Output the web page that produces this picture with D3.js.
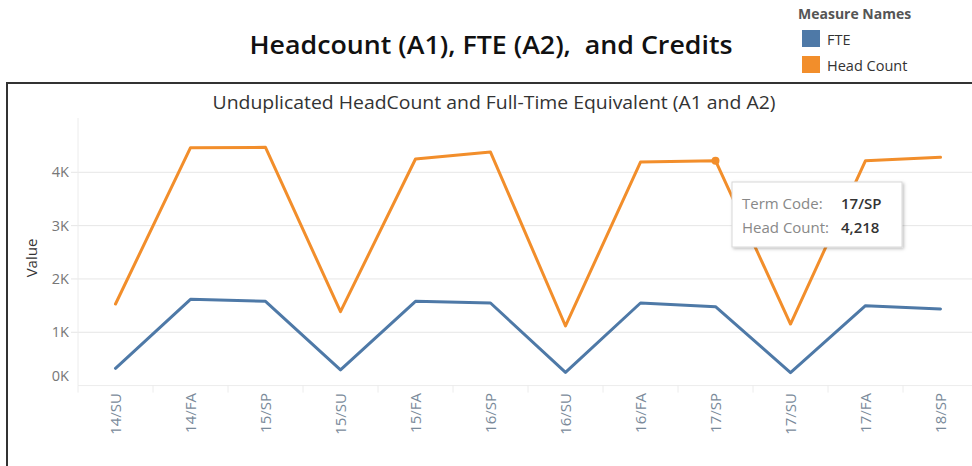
<!DOCTYPE html>
<html>
<head>
<meta charset="utf-8">
<script src="https://cdn.jsdelivr.net/npm/d3@7"></script>
<style>
  body { margin: 0; background: #fff; font-family: "Open Sans", "Noto Sans", sans-serif; }
  svg { display: block; }
</style>
</head>
<body>
<script>
// 数据：学期代码、两个度量
var terms = ["14/SU", "14/FA", "15/SP", "15/SU", "15/FA", "16/SP", "16/SU", "16/FA", "17/SP", "17/SU", "17/FA", "18/SP"];
var headCount = [1530, 4461, 4468, 1386, 4249, 4380, 1118, 4193, 4218, 1155, 4217, 4280];
var fte = [324, 1618, 1580, 293, 1580, 1549, 249, 1549, 1480, 242, 1498, 1436];
var yTicks = [0, 1000, 2000, 3000, 4000];

var w = 972, h = 466;
var colors = { fte: "#4e79a7", head: "#f28e2b" };

var svg = d3.select("body").append("svg").attr("width", w).attr("height", h);

// 标题（保留两个空格）
svg.append("text")
  .attr("x", 491).attr("y", 54)
  .attr("text-anchor", "middle")
  .attr("textLength", 483).attr("lengthAdjust", "spacingAndGlyphs")
  .style("white-space", "pre")
  .style("font-size", "25px").style("font-weight", 600).style("fill", "#111")
  .text("Headcount (A1), FTE (A2),  and Credits");

// 图例
svg.append("text").attr("x", 798).attr("y", 19)
  .style("font-size", "14px").style("font-weight", 700).style("fill", "#555")
  .text("Measure Names");
var legendItems = [["FTE", colors.fte], ["Head Count", colors.head]];
legendItems.forEach(function (d, i) {
  svg.append("rect").attr("x", 802).attr("y", 30 + i * 26).attr("width", 18).attr("height", 17).attr("fill", d[1]);
  svg.append("text").attr("x", 827).attr("y", 45 + i * 26)
    .style("font-size", "14.5px").style("fill", "#333").text(d[0]);
});

// 外框
svg.append("path")
  .attr("d", "M7," + h + "V83H" + w)
  .attr("fill", "none").attr("stroke", "#333").attr("stroke-width", 2);

svg.append("text")
  .attr("x", 494).attr("y", 109)
  .attr("text-anchor", "middle")
  .attr("textLength", 563).attr("lengthAdjust", "spacingAndGlyphs")
  .style("font-size", "17.5px").style("fill", "#333")
  .text("Unduplicated HeadCount and Full-Time Equivalent (A1 and A2)");

// 比例尺
var x0 = 78, bandW = 75;
var xScale = d3.scaleBand().domain(terms).range([x0, x0 + bandW * terms.length]);
var yScale = d3.scaleLinear().domain([0, 4000]).range([385.6, 172.3]);

// 网格线
var grid = svg.append("g");
grid.selectAll("line").data(yTicks.slice(1)).enter().append("line")
  .attr("x1", 71).attr("x2", w)
  .attr("y1", function (d) { return yScale(d); })
  .attr("y2", function (d) { return yScale(d); })
  .attr("stroke", "#e6e6e6");

// 轴线
svg.append("line").attr("x1", x0).attr("x2", x0).attr("y1", 118).attr("y2", yScale(0))
  .attr("stroke", "#ececec");
svg.append("line").attr("x1", x0).attr("x2", w).attr("y1", yScale(0)).attr("y2", yScale(0))
  .attr("stroke", "#ececec");

// x 分隔刻度
svg.append("g").selectAll("line").data(terms).enter().append("line")
  .attr("x1", function (d) { return xScale(d); })
  .attr("x2", function (d) { return xScale(d); })
  .attr("y1", yScale(0)).attr("y2", yScale(0) + 7)
  .attr("stroke", "#ececec");

// Y 轴标签
svg.append("g").selectAll("text").data(yTicks).enter().append("text")
  .attr("x", 69)
  .attr("y", function (d) { return d === 0 ? yScale(d) - 5 : yScale(d) + 5; })
  .attr("text-anchor", "end")
  .style("font-size", "14.5px").style("fill", "#777")
  .text(function (d) { return d / 1000 + "K"; });

svg.append("text")
  .attr("transform", "translate(37,258) rotate(-90)")
  .attr("text-anchor", "middle")
  .style("font-size", "15px").style("fill", "#333")
  .text("Value");

// X 轴标签
svg.append("g").selectAll("text").data(terms).enter().append("text")
  .attr("transform", function (d) {
    return "translate(" + (xScale(d) + bandW / 2 + 5) + ",393) rotate(-90)";
  })
  .attr("text-anchor", "end")
  .style("font-size", "15px").style("fill", "#7a8a9a")
  .text(function (d) { return d; });

// 折线
var line = d3.line()
  .x(function (d, i) { return xScale(terms[i]) + bandW / 2; })
  .y(function (d) { return yScale(d); });

svg.append("path").datum(fte).attr("d", line)
  .attr("fill", "none").attr("stroke", colors.fte).attr("stroke-width", 3)
  .attr("stroke-linejoin", "round").attr("stroke-linecap", "round");
svg.append("path").datum(headCount).attr("d", line)
  .attr("fill", "none").attr("stroke", colors.head).attr("stroke-width", 3)
  .attr("stroke-linejoin", "round").attr("stroke-linecap", "round");

// 悬停点与提示框
var hi = terms.indexOf("17/SP");
var hx = xScale(terms[hi]) + bandW / 2, hy = yScale(headCount[hi]);
svg.append("circle").attr("cx", hx).attr("cy", hy).attr("r", 4).attr("fill", colors.head);

var defs = svg.append("defs");
var f = defs.append("filter").attr("id", "shadow").attr("x", "-10%").attr("y", "-10%").attr("width", "130%").attr("height", "140%");
f.append("feDropShadow").attr("dx", 1.5).attr("dy", 1.5).attr("stdDeviation", 1.5).attr("flood-color", "#000").attr("flood-opacity", 0.25);

var tip = svg.append("g").attr("transform", "translate(732,182)");
tip.append("rect").attr("width", 170).attr("height", 65)
  .attr("fill", "#fff").attr("stroke", "#d8d8d8").attr("filter", "url(#shadow)");
tip.append("text").attr("x", 10).attr("y", 27).style("font-size", "15px").style("fill", "#888").text("Term Code:");
tip.append("text").attr("x", 109).attr("y", 27).style("font-size", "15px").style("fill", "#333").style("font-weight", 600).text(terms[hi]);
tip.append("text").attr("x", 10).attr("y", 51).style("font-size", "15px").style("fill", "#888").text("Head Count:");
tip.append("text").attr("x", 109).attr("y", 51).style("font-size", "15px").style("fill", "#333").style("font-weight", 600).text(d3.format(",")(headCount[hi]));
</script>
</body>
</html>
